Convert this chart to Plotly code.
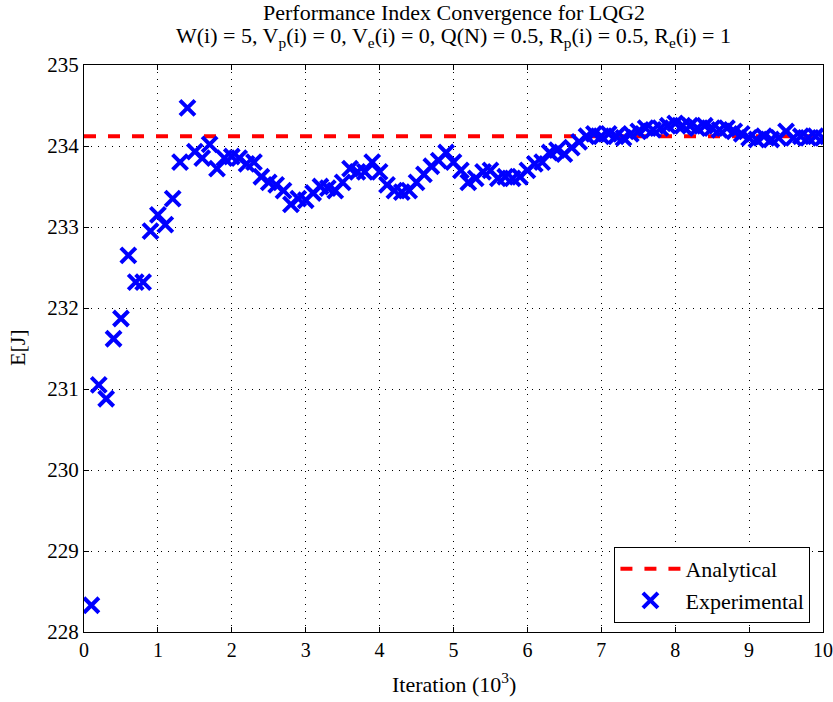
import plotly.graph_objects as go

iterations = [round(0.1 * i, 1) for i in range(1, 101)]
experimental = [
    228.33, 231.05, 230.88, 231.62, 231.87, 232.65, 232.32, 232.32, 232.95, 233.15,
    233.03, 233.35, 233.80, 234.47, 233.93, 233.85, 234.02, 233.72, 233.85, 233.87,
    233.85, 233.78, 233.80, 233.62, 233.55, 233.52, 233.45, 233.28, 233.35, 233.33,
    233.42, 233.50, 233.48, 233.45, 233.55, 233.72, 233.68, 233.68, 233.80, 233.68,
    233.52, 233.45, 233.43, 233.45, 233.55, 233.65, 233.75, 233.82, 233.92, 233.80,
    233.70, 233.55, 233.60, 233.68, 233.70, 233.60, 233.62, 233.60, 233.62, 233.70,
    233.78, 233.80, 233.92, 233.95, 233.90, 233.98, 234.05, 234.12, 234.15, 234.12,
    234.15, 234.12, 234.10, 234.15, 234.18, 234.22, 234.20, 234.22, 234.25, 234.28,
    234.25, 234.25, 234.22, 234.25, 234.22, 234.20, 234.22, 234.18, 234.15, 234.10,
    234.08, 234.12, 234.08, 234.10, 234.18, 234.10, 234.12, 234.10, 234.12, 234.10,
]
analytical_x = [0, 10]
analytical_y = [234.12, 234.12]

x_ticks = list(range(0, 11))
y_ticks = list(range(228, 236))

title_line1 = "Performance Index Convergence for LQG2"
title_line2 = ("W(i) = 5, V<sub>p</sub>(i) = 0, V<sub>e</sub>(i) = 0, Q(N) = 0.5, "
               "R<sub>p</sub>(i) = 0.5, R<sub>e</sub>(i) = 1")
x_title = "Iteration (10<sup>3</sup>)"
y_title = "E[J]"

FONT = "Liberation Serif"
TOP, BOTTOM, LEFT, RIGHT = 65, 70, 84, 10
W, H = 833, 702
PLOT_H = H - TOP - BOTTOM
PLOT_W = W - LEFT - RIGHT


def py(px):
    return 1 + (TOP - px) / PLOT_H


def px_(x):
    return (x - LEFT) / PLOT_W


fig = go.Figure()
fig.add_trace(go.Scatter(
    x=analytical_x, y=analytical_y, mode="lines", name="Analytical",
    line=dict(color="#ff0000", width=4, dash="dash"),
))
fig.add_trace(go.Scatter(
    x=iterations, y=experimental, mode="markers", name="Experimental",
    marker=dict(symbol="x-thin", size=15, line=dict(color="#0000ff", width=4), color="#0000ff"),
))

axis_common = dict(
    showline=True, linecolor="black", linewidth=1, mirror="ticks",
    ticks="inside", ticklen=5, tickcolor="black",
    showgrid=True, gridcolor="black", griddash="1px,6px", gridwidth=1,
    zeroline=False,
    automargin=False,
)

fig.update_layout(
    width=W, height=H,
    margin=dict(l=LEFT, r=RIGHT, t=TOP, b=BOTTOM),
    paper_bgcolor="white", plot_bgcolor="white",
    font=dict(family=FONT, color="black"),
    xaxis=dict(range=[0, 10], tickvals=x_ticks,
               tickfont=dict(family=FONT, size=20, color="black"),
               **axis_common),
    yaxis=dict(range=[228, 235], tickvals=y_ticks,
               tickfont=dict(family=FONT, size=21, color="black"),
               **axis_common),
    legend=dict(
        x=0.983, y=0.016, xanchor="right", yanchor="bottom",
        bgcolor="white", bordercolor="black", borderwidth=1,
        font=dict(family=FONT, size=22, color="black"),
        itemwidth=60, tracegroupgap=0,
    ),
    showlegend=True,
    annotations=[
        dict(text=title_line1, x=0.5, xref="paper", y=py(12), yref="paper",
             xanchor="center", yanchor="middle", showarrow=False,
             font=dict(family=FONT, size=22, color="black")),
        dict(text=title_line2, x=0.5, xref="paper", y=py(37), yref="paper",
             xanchor="center", yanchor="middle", showarrow=False,
             font=dict(family=FONT, size=22, color="black")),
        dict(text=x_title, x=0.5, xref="paper", y=py(683), yref="paper",
             xanchor="center", yanchor="middle", showarrow=False,
             font=dict(family=FONT, size=22, color="black")),
        dict(text=y_title, x=px_(17), xref="paper", y=py(348), yref="paper",
             xanchor="center", yanchor="middle", showarrow=False, textangle=-90,
             font=dict(family=FONT, size=22, color="black")),
    ],
)

fig.write_html("out.html")
